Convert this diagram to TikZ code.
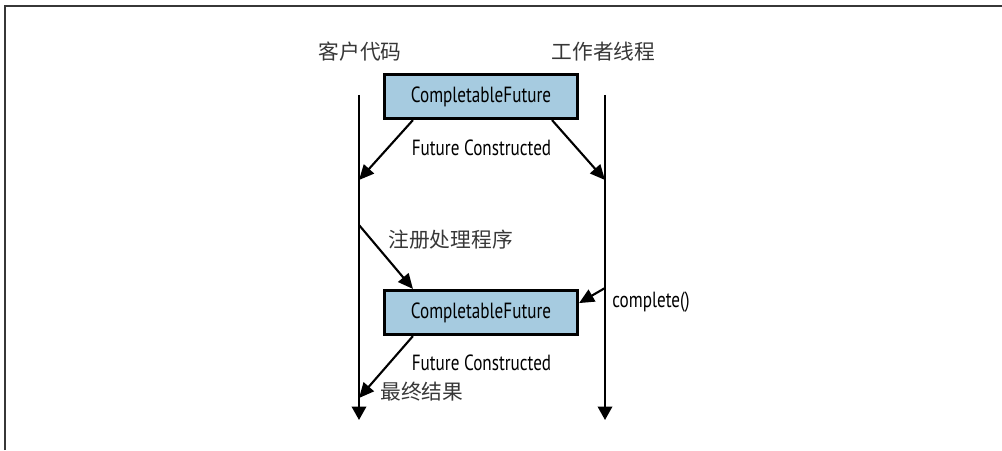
\documentclass[tikz,border=0pt]{standalone}
\usepackage{fontspec}
\setmainfont[FakeStretch=0.78]{PT Sans}
\newfontfamily\cjk{Noto Sans CJK SC}
\usepackage{tikz}
\usetikzlibrary{arrows.meta}
\usetikzlibrary{positioning}
\usetikzlibrary{calc}
\definecolor{boxblue}{RGB}{166,203,224}
\definecolor{cjkgray}{RGB}{55,55,55}
\tikzset{
  cfbox/.style={draw=black, line width=1.5pt, fill=boxblue, minimum width=3.87cm, minimum height=0.89cm, inner sep=0pt, font=\fontsize{12.5}{14}\selectfont},
  lbl/.style={font=\fontsize{12.5}{14}\selectfont, inner sep=0pt},
  cjklbl/.style={font=\cjk\fontsize{11.8}{13}\selectfont, text=cjkgray, inner sep=0pt},
  msg/.style={line width=1.2pt, -{Triangle[length=3mm,width=2.7mm]}},
  life/.style={line width=1.2pt, -{Triangle[length=2.7mm,width=2.9mm]}}
}
\begin{document}
\begin{tikzpicture}
     \useasboundingbox (0,0) rectangle (20.04,9);
     \draw[line width=0.8pt, draw=cjkgray] (0.1,0) -- (0.1,8.88) -- (20.04,8.88);
     % lifelines
     \coordinate (clientTop) at (7.18,7.10);
     \coordinate (clientEnd) at (7.18,0.60);
     \coordinate (workerTop) at (12.10,7.10);
     \coordinate (workerEnd) at (12.10,0.60);
     \draw[life] (clientTop) -- (clientEnd);
     \draw[life] (workerTop) -- (workerEnd);
     \node[cjklbl] (client) at (7.2,7.96) {客户代码};
     \node[cjklbl] (worker) at (12.07,7.96) {工作者线程};
     % boxes
     \node[cfbox] (cf1) at (9.62,7.07) {CompletableFuture};
     \node[cfbox] (cf2) at (9.62,2.75) {CompletableFuture};
     \coordinate (c1) at (7.18,5.40);
     \coordinate (c2) at (7.18,4.50);
     \coordinate (c3) at (7.18,1.04);
     \coordinate (w1) at (12.10,5.40);
     \coordinate (w2) at (12.10,3.24);
     \draw[msg] ($(cf1.south west)!0.153!(cf1.south east)$) -- (c1);
     \draw[msg] ($(cf1.south west)!0.862!(cf1.south east)$) -- (w1);
     \draw[msg] (c2) -- ($(cf2.north west)!0.153!(cf2.north east)$);
     \draw[msg] (w2) -- ($(cf2.north east)!0.3!(cf2.south east)$);
     \draw[msg] ($(cf2.south west)!0.153!(cf2.south east)$) -- (c3);
     % labels
     \node[lbl] (fc1) at (9.63,6.04) {Future Constructed};
     \node[lbl] (fc2) at (9.63,1.74) {Future Constructed};
     \node[cjklbl, anchor=west] (reg) at (7.76,4.20) {注册处理程序};
     \node[lbl, anchor=west] (done) at (12.24,2.96) {complete()};
     \node[cjklbl, anchor=west] (result) at (7.60,1.16) {最终结果};
\end{tikzpicture}
\end{document}
